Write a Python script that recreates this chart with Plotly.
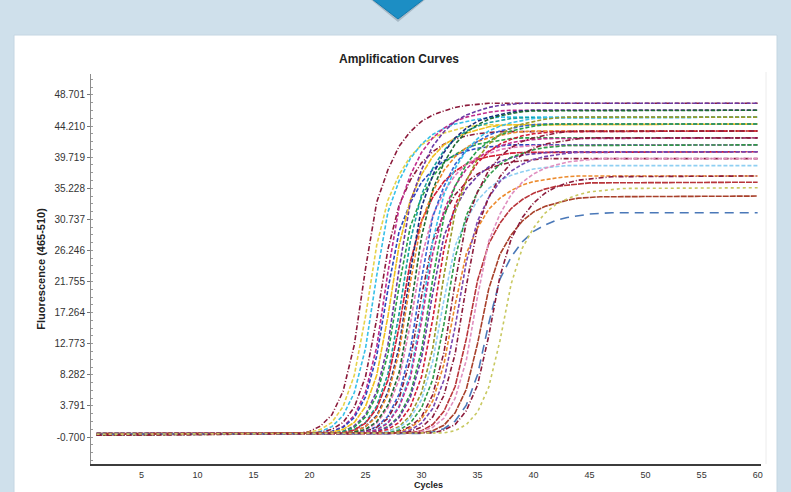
import plotly.graph_objects as go

# ---------------- data ----------------
X_TICKS = [5, 10, 15, 20, 25, 30, 35, 40, 45, 50, 55, 60]
Y_TICKS = [-0.700, 3.791, 8.282, 12.773, 17.264, 21.755, 26.246, 30.737,
           35.228, 39.719, 44.210, 48.701]
Y_TICK_TEXT = ["-0.700", "3.791", "8.282", "12.773", "17.264", "21.755",
               "26.246", "30.737", "35.228", "39.719", "44.210", "48.701"]

FIRST_CYCLE = 1
LAST_CYCLE = 60

WELLS = ["A1", "A2", "A3", "A4", "A5", "A6", "A7", "A8", "A9", "A10", "A11", "A12",
         "B1", "B2", "B3", "B4", "B5", "B6", "B7", "B8", "B9", "B10", "B11", "B12",
         "C1", "C2", "C3", "C4", "C5", "C6", "C7", "C8", "C9", "C10", "C11"]

# first cycle of the per-cycle reading window of every well
WINDOW_START = [19, 19, 20, 20, 21, 21, 21, 22, 22, 22, 22, 23,
                23, 23, 23, 24, 24, 24, 24, 25, 25, 25, 26, 26,
                26, 27, 27, 27, 28, 28, 29, 29, 30, 30, 31]

# fluorescence: value at cycle 1, 18 consecutive cycles from WINDOW_START, value at cycle 60
A1 = [-0.3, -0.2, 0.1, 0.9, 2.5, 5.9, 12.6, 23.6, 33.2, 37.9, 41.3, 43.4, 44.9, 45.8, 46.4, 46.9, 47.2, 47.4, 47.5, 47.5]
A2 = [-0.2, -0.2, 0.0, 0.4, 1.4, 3.7, 8.2, 16.7, 27.0, 33.5, 37.2, 39.8, 41.5, 42.5, 43.2, 43.7, 44.1, 44.3, 44.4, 44.5]
A3 = [-0.3, -0.2, 0.1, 0.8, 2.4, 5.7, 12.1, 22.6, 31.8, 36.3, 39.5, 41.6, 43.0, 43.9, 44.5, 44.9, 45.2, 45.4, 45.5, 45.5]
A4 = [-0.4, -0.2, 0.0, 0.4, 1.4, 3.6, 8.0, 16.3, 26.4, 32.8, 36.4, 38.9, 40.5, 41.6, 42.3, 42.8, 43.1, 43.3, 43.4, 43.5]
A5 = [-0.3, -0.2, 0.1, 0.8, 2.4, 5.8, 12.3, 23.1, 32.5, 37.1, 40.4, 42.5, 43.9, 44.9, 45.5, 45.9, 46.2, 46.4, 46.5, 46.5]
A6 = [-0.2, -0.2, 0.1, 0.7, 2.1, 5.1, 11.0, 20.6, 29.0, 33.1, 36.1, 37.9, 39.2, 40.0, 40.6, 41.0, 41.2, 41.4, 41.5, 41.5]
A7 = [-0.3, -0.2, 0.0, 0.4, 1.4, 3.7, 8.2, 16.7, 27.0, 33.5, 37.2, 39.8, 41.5, 42.5, 43.2, 43.7, 44.1, 44.3, 44.4, 44.5]
A8 = [-0.3, -0.2, 0.1, 0.9, 2.5, 5.9, 12.6, 23.6, 33.2, 37.9, 41.3, 43.4, 44.9, 45.8, 46.4, 46.9, 47.2, 47.4, 47.5, 47.5]
A9 = [-0.3, -0.2, 0.1, 0.7, 2.2, 5.3, 11.3, 21.1, 29.7, 33.9, 36.9, 38.9, 40.1, 41.0, 41.6, 41.9, 42.2, 42.4, 42.5, 42.5]
A10 = [-0.2, -0.2, 0.0, 0.4, 1.4, 3.8, 8.4, 17.1, 27.6, 34.3, 38.1, 40.7, 42.4, 43.5, 44.2, 44.7, 45.0, 45.3, 45.4, 45.5]
A11 = [-0.3, -0.2, -0.1, 0.3, 1.3, 3.4, 7.5, 15.2, 24.6, 30.5, 33.9, 36.2, 37.7, 38.7, 39.4, 39.8, 40.1, 40.3, 40.4, 40.5]
A12 = [-0.4, -0.2, 0.1, 0.8, 2.4, 5.8, 12.3, 23.1, 32.5, 37.1, 40.4, 42.5, 43.9, 44.9, 45.5, 45.9, 46.2, 46.4, 46.5, 46.5]
B1 = [-0.3, -0.2, 0.1, 0.8, 2.2, 5.4, 11.5, 21.6, 30.4, 34.7, 37.8, 39.8, 41.1, 42.0, 42.5, 42.9, 43.2, 43.4, 43.5, 43.5]
B2 = [-0.2, -0.2, -0.1, 0.3, 1.3, 3.5, 7.6, 15.6, 25.2, 31.3, 34.7, 37.1, 38.7, 39.7, 40.3, 40.8, 41.1, 41.3, 41.4, 41.5]
B3 = [-0.3, -0.2, 0.0, 0.4, 1.5, 3.9, 8.6, 17.5, 28.2, 35.0, 38.9, 41.6, 43.3, 44.4, 45.2, 45.7, 46.0, 46.3, 46.4, 46.5]
B4 = [-0.3, -0.2, 0.1, 0.8, 2.3, 5.5, 11.8, 22.1, 31.1, 35.5, 38.7, 40.7, 42.0, 42.9, 43.5, 43.9, 44.2, 44.4, 44.5, 44.5]
B5 = [-0.4, -0.2, 0.1, 0.7, 2.0, 4.9, 10.4, 19.6, 27.6, 31.5, 34.3, 36.1, 37.3, 38.1, 38.6, 39.0, 39.2, 39.4, 39.5, 39.5]
B6 = [-0.3, -0.2, 0.0, 0.4, 1.4, 3.8, 8.4, 17.1, 27.6, 34.3, 38.1, 40.7, 42.4, 43.5, 44.2, 44.7, 45.0, 45.3, 45.4, 45.5]
B7 = [-0.2, -0.2, 0.0, 0.3, 1.3, 3.6, 7.8, 16.0, 25.8, 32.0, 35.6, 38.0, 39.6, 40.6, 41.3, 41.8, 42.1, 42.3, 42.4, 42.5]
B8 = [-0.2, -0.2, 0.1, 0.8, 2.3, 5.5, 11.8, 22.1, 31.1, 35.5, 38.7, 40.7, 42.0, 42.9, 43.5, 43.9, 44.2, 44.4, 44.5, 44.5]
B9 = [-0.3, -0.2, 0.1, 0.7, 2.1, 5.0, 10.7, 20.1, 28.3, 32.3, 35.2, 37.0, 38.3, 39.1, 39.6, 40.0, 40.2, 40.4, 40.5, 40.5]
B10 = [-0.3, -0.2, 0.0, 0.4, 1.4, 3.6, 8.0, 16.3, 26.4, 32.8, 36.4, 38.9, 40.5, 41.6, 42.3, 42.8, 43.1, 43.3, 43.4, 43.5]
B11 = [-0.4, -0.2, 0.1, 0.8, 2.4, 5.7, 12.1, 22.6, 31.8, 36.3, 39.5, 41.6, 43.0, 43.9, 44.5, 44.9, 45.2, 45.4, 45.5, 45.5]
B12 = [-0.3, -0.2, 0.1, 0.6, 2.0, 4.7, 10.2, 19.1, 26.9, 30.7, 33.5, 35.2, 36.4, 37.1, 37.6, 38.0, 38.2, 38.4, 38.5, 38.5]
C1 = [-0.3, -0.2, -0.1, 0.3, 1.3, 3.5, 7.6, 15.6, 25.2, 31.3, 34.7, 37.1, 38.7, 39.7, 40.3, 40.8, 41.1, 41.3, 41.4, 41.5]
C2 = [-0.2, -0.2, 0.1, 0.8, 2.2, 5.4, 11.5, 21.6, 30.4, 34.7, 37.8, 39.8, 41.1, 42.0, 42.5, 42.9, 43.2, 43.4, 43.5, 43.5]
C3 = [-0.3, -0.2, 0.0, 0.6, 1.9, 4.5, 9.8, 18.4, 25.8, 29.5, 32.2, 33.8, 34.9, 35.7, 36.2, 36.5, 36.7, 36.9, 37.0, 37.0]
C4 = [-0.2, -0.2, -0.1, 0.3, 1.3, 3.4, 7.5, 15.2, 24.6, 30.5, 33.9, 36.2, 37.7, 38.7, 39.4, 39.8, 40.1, 40.3, 40.4, 40.5]
C5 = [-0.4, -0.2, 0.1, 0.7, 2.2, 5.3, 11.3, 21.1, 29.7, 33.9, 36.9, 38.9, 40.1, 41.0, 41.6, 41.9, 42.2, 42.4, 42.5, 42.5]
C6 = [-0.3, -0.2, -0.1, 0.2, 1.1, 3.0, 6.6, 13.5, 21.9, 27.2, 30.2, 32.3, 33.6, 34.5, 35.1, 35.5, 35.7, 35.9, 36.0, 36.1]
C7 = [-0.3, -0.2, 0.1, 0.7, 2.0, 4.9, 10.4, 19.6, 27.6, 31.5, 34.3, 36.1, 37.3, 38.1, 38.6, 39.0, 39.2, 39.4, 39.5, 39.5]
C8 = [-0.2, -0.2, -0.1, 0.2, 1.0, 2.8, 6.2, 12.8, 20.7, 25.7, 28.5, 30.5, 31.8, 32.6, 33.1, 33.5, 33.8, 33.9, 34.0, 34.1]
C9 = [-0.3, -0.2, 0.0, 0.5, 1.6, 3.9, 8.3, 15.7, 22.1, 25.3, 27.5, 29.0, 29.9, 30.6, 31.0, 31.3, 31.5, 31.6, 31.7, 31.7]
C10 = [-0.4, -0.2, -0.1, 0.3, 1.1, 3.1, 6.8, 13.9, 22.5, 27.9, 31.0, 33.1, 34.5, 35.4, 36.0, 36.4, 36.6, 36.8, 36.9, 37.0]
C11 = [-0.3, -0.2, -0.1, 0.2, 1.1, 2.9, 6.5, 13.2, 21.4, 26.6, 29.5, 31.6, 32.9, 33.7, 34.3, 34.7, 34.9, 35.1, 35.2, 35.3]

CURVES = [A1, A2, A3, A4, A5, A6, A7, A8, A9, A10, A11, A12,
          B1, B2, B3, B4, B5, B6, B7, B8, B9, B10, B11, B12,
          C1, C2, C3, C4, C5, C6, C7, C8, C9, C10, C11]

# ---------------- styles ----------------
MAROON = "#8b1a3a"
COLORS = [MAROON, "#e6d24a", "#38c0e8", MAROON, "#c02c8c", "#2a46c0", "#f0c020", "#6b3aa5",
          "#28a048", "#18a0a0", "#d21e36", "#1c2c80",
          "#ec8a2c", "#e27ab8", "#1e6b34", "#3464d4", MAROON, "#38c0e8", "#c02c8c", "#28a048",
          "#6b3aa5", "#d21e36", "#9a9a2a", "#8fcff2",
          "#2e9a48", MAROON, "#ec8a2c", "#7a48b0", MAROON, "#b8343a", "#e090c0", "#a8402a",
          "#4a78b8", MAROON, "#c8c860"]
DD = "5px,2px,1px,2px"
DS = "4px,2px"
DL = "6px,1px"
DASHES = [DD, DS, DS, DD, DS, DS, DL, DS, DS, DS, DL, DS,
          DS, DS, DS, DS, DD, DS, DS, DS, DS, DS, DS, DS,
          DS, DD, DS, DS, DD, DL, DS, DL, "9px,6px", DD, "3px,3px"]

BG = "#cfe0eb"

# plot-area geometry in pixels
L, R, T, B = 91, 761, 74, 464
W, H = 791, 492


def px_x(p):
    return (p - L) / (R - L)


def px_y(p):
    return (B - p) / (B - T)


fig = go.Figure()
for well, start, vals, color, dash in zip(WELLS, WINDOW_START, CURVES, COLORS, DASHES):
    cycles = [FIRST_CYCLE] + list(range(start, start + len(vals) - 2)) + [LAST_CYCLE]
    fig.add_trace(go.Scatter(
        x=cycles, y=vals, mode="lines", name=well, showlegend=False,
        line=dict(color=color, width=1.6, dash=dash), hoverinfo="skip"))

FONT = "Liberation Sans, Arial, sans-serif"

shapes = [
    # white panel
    dict(type="rect", xref="paper", yref="paper", layer="below",
         x0=px_x(14), x1=px_x(777), y0=px_y(H + 5), y1=px_y(35),
         fillcolor="white", line=dict(color="#c4d6e2", width=1)),
    # faint frame line on the right
    dict(type="line", xref="paper", yref="paper", layer="below",
         x0=px_x(766), x1=px_x(766), y0=px_y(B), y1=px_y(72),
         line=dict(color="#ececec", width=1)),
    # arrow shadow
    dict(type="path", xref="paper", yref="paper", layer="below",
         path="M {} {} L {} {} L {} {} Z".format(px_x(370), px_y(-1), px_x(426), px_y(-1),
                                                px_x(398), px_y(22)),
         fillcolor="rgba(90,110,125,0.35)", line=dict(width=0)),
    # arrow
    dict(type="path", xref="paper", yref="paper", layer="below",
         path="M {} {} L {} {} L {} {} Z".format(px_x(372), px_y(-1), px_x(424), px_y(-1),
                                                px_x(398), px_y(19)),
         fillcolor="#1c8ec4", line=dict(color="#137aae", width=1)),
]

annotations = [
    dict(text="<b>Amplification Curves</b>", xref="paper", yref="paper",
         x=px_x(399), y=px_y(59), xanchor="center", yanchor="middle",
         showarrow=False, font=dict(size=12, color="#222", family=FONT)),
    dict(text="<b>Cycles</b>", xref="paper", yref="paper",
         x=px_x(428), y=px_y(492), xanchor="center", yanchor="bottom",
         showarrow=False, font=dict(size=9, color="#222", family=FONT)),
]

fig.update_layout(
    width=W, height=H, autosize=False,
    margin=dict(l=L, r=W - R, t=T, b=H - B, pad=0),
    paper_bgcolor=BG, plot_bgcolor="white",
    font=dict(family=FONT, color="#222"),
    shapes=shapes,
    annotations=annotations,
    xaxis=dict(range=[0.5, 60.3], tickmode="array", tickvals=X_TICKS,
               showgrid=False, zeroline=False, showline=True,
               linecolor="#3c3c3c", linewidth=2, ticks="", ticklabelstandoff=1,
               tickfont=dict(size=9, color="#333", family=FONT),
               automargin=False, fixedrange=True),
    yaxis=dict(range=[-4.6, 51.73], tickmode="array", tickvals=Y_TICKS, ticktext=Y_TICK_TEXT,
               showgrid=False, zeroline=False, showline=True,
               linecolor="#8c8c8c", linewidth=1, ticks="outside", ticklen=3,
               tickcolor="#777", tickwidth=1,
               minor=dict(ticks="inside", ticklen=2, tickcolor="#999",
                          tick0=-0.7, dtick=1.12275, showgrid=False),
               tickfont=dict(size=10, color="#333", family=FONT),
               title=dict(text="<b>Fluorescence (465-510)</b>", standoff=6,
                          font=dict(size=11, color="#222", family=FONT)),
               automargin=False, fixedrange=True),
)

fig.write_html(
    "out.html",
    config={"displayModeBar": False},
    post_script=("document.body.style.margin='0px';"
                 "document.body.style.overflow='hidden';"
                 "document.body.style.background='" + BG + "';"),
)
